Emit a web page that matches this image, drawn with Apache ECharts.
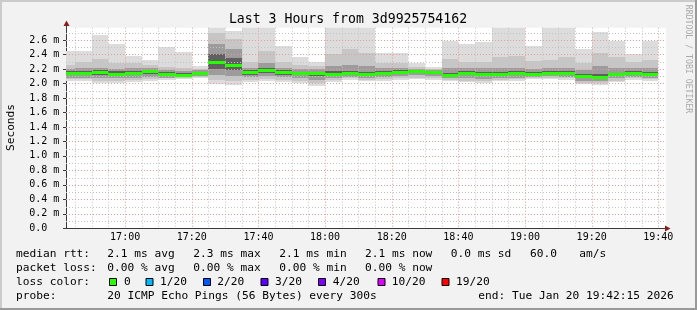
<!DOCTYPE html>
<html><head><meta charset="utf-8">
<script src="https://cdn.jsdelivr.net/npm/echarts@6/dist/echarts.min.js"></script>
<style>html,body{margin:0;padding:0;background:#f2f2f2}#c{width:697px;height:310px}</style>
</head><body><div id="c"></div>
<script>
// ---- data (times = end of each 5-minute step, values in ms) ----
const viewStart = '16:42:15';
const viewEnd = '19:42:15';
const barTimes = ['16:45','16:50','16:55','17:00','17:05','17:10','17:15','17:20','17:25','17:30','17:35','17:40','17:45','17:50','17:55','18:00','18:05','18:10','18:15','18:20','18:25','18:30','18:35','18:40','18:45','18:50','18:55','19:00','19:05','19:10','19:15','19:20','19:25','19:30','19:35','19:40'];
const maxRtt = [2.45,2.45,2.67,2.55,2.38,2.33,2.51,2.43,2.24,2.85,2.72,2.85,2.85,2.52,2.37,2.29,2.85,2.85,2.85,2.42,2.42,2.28,2.23,2.58,2.55,2.57,2.85,2.85,2.52,2.85,2.85,2.47,2.71,2.58,2.40,2.58];
const hi2 = [2.25,2.30,2.34,2.28,2.28,2.25,2.23,2.21,2.20,2.70,2.62,2.29,2.45,2.30,2.25,2.24,2.40,2.48,2.42,2.28,2.28,2.23,2.20,2.34,2.30,2.30,2.36,2.38,2.31,2.33,2.36,2.28,2.42,2.36,2.29,2.33];
const hi3 = [2.20,2.21,2.22,2.20,2.21,2.21,2.19,2.17,2.18,2.55,2.48,2.22,2.28,2.22,2.20,2.20,2.24,2.25,2.24,2.22,2.21,2.20,2.18,2.22,2.21,2.21,2.22,2.21,2.20,2.21,2.22,2.19,2.24,2.22,2.22,2.22];
const hi4 = [2.17,2.17,2.19,2.17,2.17,2.19,2.16,2.14,2.16,2.40,2.35,2.18,2.21,2.18,2.16,2.16,2.17,2.17,2.16,2.17,2.18,2.19,2.17,2.15,2.17,2.16,2.16,2.17,2.16,2.17,2.17,2.13,2.13,2.15,2.17,2.16];
const medianRtt = [2.144,2.14,2.16,2.135,2.146,2.17,2.13,2.12,2.14,2.295,2.26,2.153,2.18,2.153,2.14,2.14,2.135,2.14,2.135,2.146,2.158,2.172,2.155,2.123,2.146,2.135,2.135,2.141,2.13,2.146,2.148,2.10,2.089,2.125,2.141,2.125];
const lo4 = [2.11,2.11,2.12,2.10,2.11,2.13,2.10,2.10,2.12,2.20,2.18,2.12,2.14,2.12,2.11,2.10,2.11,2.11,2.11,2.12,2.13,2.14,2.13,2.10,2.11,2.10,2.11,2.11,2.11,2.12,2.12,2.07,2.06,2.10,2.11,2.10];
const lo3 = [2.08,2.08,2.08,2.07,2.08,2.09,2.08,2.09,2.10,2.12,2.10,2.09,2.10,2.09,2.07,2.05,2.08,2.09,2.08,2.09,2.10,2.11,2.10,2.07,2.07,2.06,2.08,2.08,2.09,2.10,2.09,2.04,2.03,2.07,2.09,2.08];
const lo2 = [2.06,2.06,2.04,2.04,2.05,2.06,2.07,2.08,2.09,2.05,2.03,2.05,2.06,2.05,2.03,2.00,2.05,2.07,2.05,2.06,2.07,2.08,2.07,2.05,2.04,2.03,2.05,2.06,2.07,2.08,2.07,2.01,2.00,2.04,2.07,2.06];
const minRtt = [2.04,2.04,2.00,2.01,2.02,2.03,2.05,2.06,2.07,1.99,1.98,2.02,2.03,2.02,2.00,1.96,2.02,2.05,2.03,2.03,2.05,2.06,2.05,2.03,2.02,2.01,2.03,2.04,2.06,2.06,2.05,1.99,1.98,2.02,2.05,2.04];
const stepMinutes = 5;

// ---- axis / grid ticks ----
const xMajorTicks = ['17:00','17:20','17:40','18:00','18:20','18:40','19:00','19:20','19:40'];
const yMajorTicks = [0.2,0.4,0.6,0.8,1.0,1.2,1.4,1.6,1.8,2.0,2.2,2.4,2.6];
const yMinorTicks = [0.1,0.3,0.5,0.7,0.9,1.1,1.3,1.5,1.7,1.9,2.1,2.3,2.5,2.7];
const yMax = 2.77;

// ---- legend texts ----
const titleText = 'Last 3 Hours from 3d9925754162';
const yName = 'Seconds';
const lossLabels = ['0','1/20','2/20','3/20','4/20','10/20','19/20'];
const lossColors = ['#26ff00','#00b8ff','#0059ff','#5e00ff','#7e00ff','#dd00ff','#ff0000'];

function toMin(s){const p=s.split(':').map(Number);return p[0]*60+p[1]+(p[2]||0)/60;}
function fmtMin(v){const h=Math.floor(v/60+1e-6), m=Math.round(v-h*60);return String(h).padStart(2,'0')+':'+String(m).padStart(2,'0');}

const MONO = '"DejaVu Sans Mono", monospace';
const smokeData = barTimes.map((t,i)=>[toMin(t), minRtt[i], lo2[i], lo3[i], lo4[i], medianRtt[i], hi4[i], hi3[i], hi2[i], maxRtt[i]]);
const medianData = barTimes.map((t,i)=>[toMin(t), medianRtt[i]]);
const majorSet = new Set(xMajorTicks);
const gridData = [];
barTimes.forEach(t=>{ if(!majorSet.has(t)) gridData.push([0, toMin(t)]); });
yMinorTicks.forEach(v=>gridData.push([2, v]));
xMajorTicks.forEach(t=>gridData.push([1, toMin(t)]));
yMajorTicks.forEach(v=>gridData.push([3, v]));

const x0 = toMin(viewStart), x1 = toMin(viewEnd);

function renderSmoke(params, api){
  const t1 = api.value(0), t0 = t1 - stepMinutes;
  const xa = Math.round(api.coord([t0,0])[0]), xb = Math.round(api.coord([t1,0])[0]);
  const pairs = [[1,9,'#dcdcdc'],[2,8,'#c6c6c6'],[3,7,'#9c9c9c'],[4,6,'#606060']];
  const children = pairs.map(([a,b,c])=>{
    const yt = Math.round(api.coord([t1, api.value(b)])[1]);
    const yb = Math.round(api.coord([t1, api.value(a)])[1]);
    return {type:'rect', shape:{x:xa,y:yt,width:xb-xa,height:yb-yt}, style:{fill:c}};
  });
  return {type:'group', children};
}
function renderMedian(params, api){
  const t1 = api.value(0), t0 = t1 - stepMinutes;
  const xa = Math.round(api.coord([t0,0])[0]), xb = Math.round(api.coord([t1,0])[0]);
  const yc = Math.round(api.coord([t1, api.value(1)])[1]);
  return {type:'rect', shape:{x:xa,y:yc-1,width:xb-xa,height:3}, style:{fill:lossColors[0]}};
}
function renderGrid(params, api){
  const cs = params.coordSys;
  const kind = api.value(0), v = api.value(1);
  const major = (kind===1||kind===3);
  let shape;
  if(kind<2){
    const x = Math.round(api.coord([v,0])[0]) + 0.5;
    shape = {x1:x,y1:cs.y,x2:x,y2:cs.y+cs.height};
  } else {
    const y = Math.round(api.coord([x0,v])[1]) + 0.5;
    shape = {x1:cs.x,y1:y,x2:cs.x+cs.width,y2:y};
  }
  return {type:'line', shape, style:{stroke: major?'#eb9a9a':'#c4c4c4', lineWidth:1, lineDash:[1,2]}};
}

const legendY = [254.3, 268.3, 282.3, 295.7];
const txt = (text, x, y, extra) => Object.assign({type:'text', x, y, z:10, style:{text, fill:'#000', fontFamily:MONO, fontSize:11.2, align:'left', verticalAlign:'middle'}}, extra||{});
const graphics = [
  {type:'rect', shape:{x:0,y:0,width:697,height:2}, style:{fill:'#cbcbcb'}, z:10},
  {type:'rect', shape:{x:0,y:0,width:2,height:310}, style:{fill:'#cbcbcb'}, z:10},
  {type:'rect', shape:{x:695,y:0,width:2,height:310}, style:{fill:'#999999'}, z:10},
  {type:'rect', shape:{x:0,y:308,width:697,height:2}, style:{fill:'#999999'}, z:10},
  {type:'text', x:348, y:20, z:10, style:{text:titleText, fill:'#000', fontFamily:MONO, fontSize:13.2, align:'center', verticalAlign:'middle'}},
  {type:'text', x:10.8, y:127.5, rotation:Math.PI/2, z:10, style:{text:yName, fill:'#000', fontFamily:MONO, fontSize:11.2, align:'center', verticalAlign:'middle'}},
  {type:'text', x:688, y:59, rotation:-Math.PI/2, z:10, style:{text:'RRDTOOL / TOBI OETIKER', fill:'#aaaaaa', fontFamily:MONO, fontSize:8.2, align:'center', verticalAlign:'middle'}},
  {type:'line', shape:{x1:66.5,y1:28,x2:66.5,y2:24}, style:{stroke:'#3a3a3a', lineWidth:1}, z:10},
  {type:'polygon', shape:{points:[[63.5,26],[69.5,26],[66.5,20.5]]}, style:{fill:'#8b1c1c'}, z:10},
  {type:'line', shape:{x1:665,y1:228.5,x2:668,y2:228.5}, style:{stroke:'#3a3a3a', lineWidth:1}, z:10},
  {type:'polygon', shape:{points:[[665,225.5],[665,231.5],[670.5,228.5]]}, style:{fill:'#8b1c1c'}, z:10},
  txt('median rtt:',16,legendY[0]), txt('2.1 ms avg',107.3,legendY[0]), txt('2.3 ms max',193.3,legendY[0]),
  txt('2.1 ms min',279.3,legendY[0]), txt('2.1 ms now',365,legendY[0]), txt('0.0 ms sd',450.7,legendY[0]),
  txt('60.0',530,legendY[0]), txt('am/s',579.3,legendY[0]),
  txt('packet loss:',16,legendY[1]), txt('0.00 % avg',107.3,legendY[1]), txt('0.00 % max',193.3,legendY[1]),
  txt('0.00 % min',279.3,legendY[1]), txt('0.00 % now',365,legendY[1]),
  txt('loss color:',16,legendY[2]),
  txt('probe:',16,legendY[3]), txt('20 ICMP Echo Pings (56 Bytes) every 300s',107.3,legendY[3]),
  txt('end: Tue Jan 20 19:42:15 2026',478.3,legendY[3])
];
const boxX = [109.5,146,203.5,261,318.5,378,442];
const labX = [124,160,217.3,275,332.7,391.7,456];
lossLabels.forEach((l,i)=>{
  graphics.push({type:'rect', shape:{x:boxX[i], y:278.5, width:7, height:7}, style:{fill:lossColors[i], stroke:'#000', lineWidth:1}, z:10});
  graphics.push(txt(l, labX[i], legendY[2]));
});

const chart = echarts.init(document.getElementById('c'), null, {renderer:'canvas'});
chart.setOption({
  animation:false,
  backgroundColor:'#f2f2f2',
  grid:{left:66, right:31.2, top:27.7, bottom:81.7, show:true, backgroundColor:'#ffffff', borderWidth:0},
  xAxis:{type:'value', min:x0, max:x1,
    axisLine:{show:true, onZero:false, lineStyle:{color:'#3a3a3a', width:1}},
    axisTick:{show:false}, splitLine:{show:false},
    axisLabel:{customValues:xMajorTicks.map(toMin), formatter:fmtMin, fontFamily:MONO, fontSize:10, color:'#000', margin:4}},
  yAxis:{type:'value', min:0, max:yMax, interval:0.2,
    axisLine:{show:true, lineStyle:{color:'#3a3a3a', width:1}},
    axisTick:{show:true, length:3, lineStyle:{color:'#3a3a3a'}}, splitLine:{show:false},
    axisLabel:{showMaxLabel:false, fontFamily:MONO, fontSize:10, color:'#000', margin:6.7,
      formatter:v=> v===0 ? '0.0\u00a0\u00a0' : v.toFixed(1)+'\u00a0m'}},
  series:[
    {type:'custom', name:'smoke', renderItem:renderSmoke, data:smokeData, clip:true, z:1, silent:true},
    {type:'custom', name:'grid', renderItem:renderGrid, data:gridData, clip:false, z:2, silent:true},
    {type:'custom', name:'median', renderItem:renderMedian, data:medianData, clip:true, z:3, silent:true}
  ],
  graphic:graphics
});
</script></body></html>
